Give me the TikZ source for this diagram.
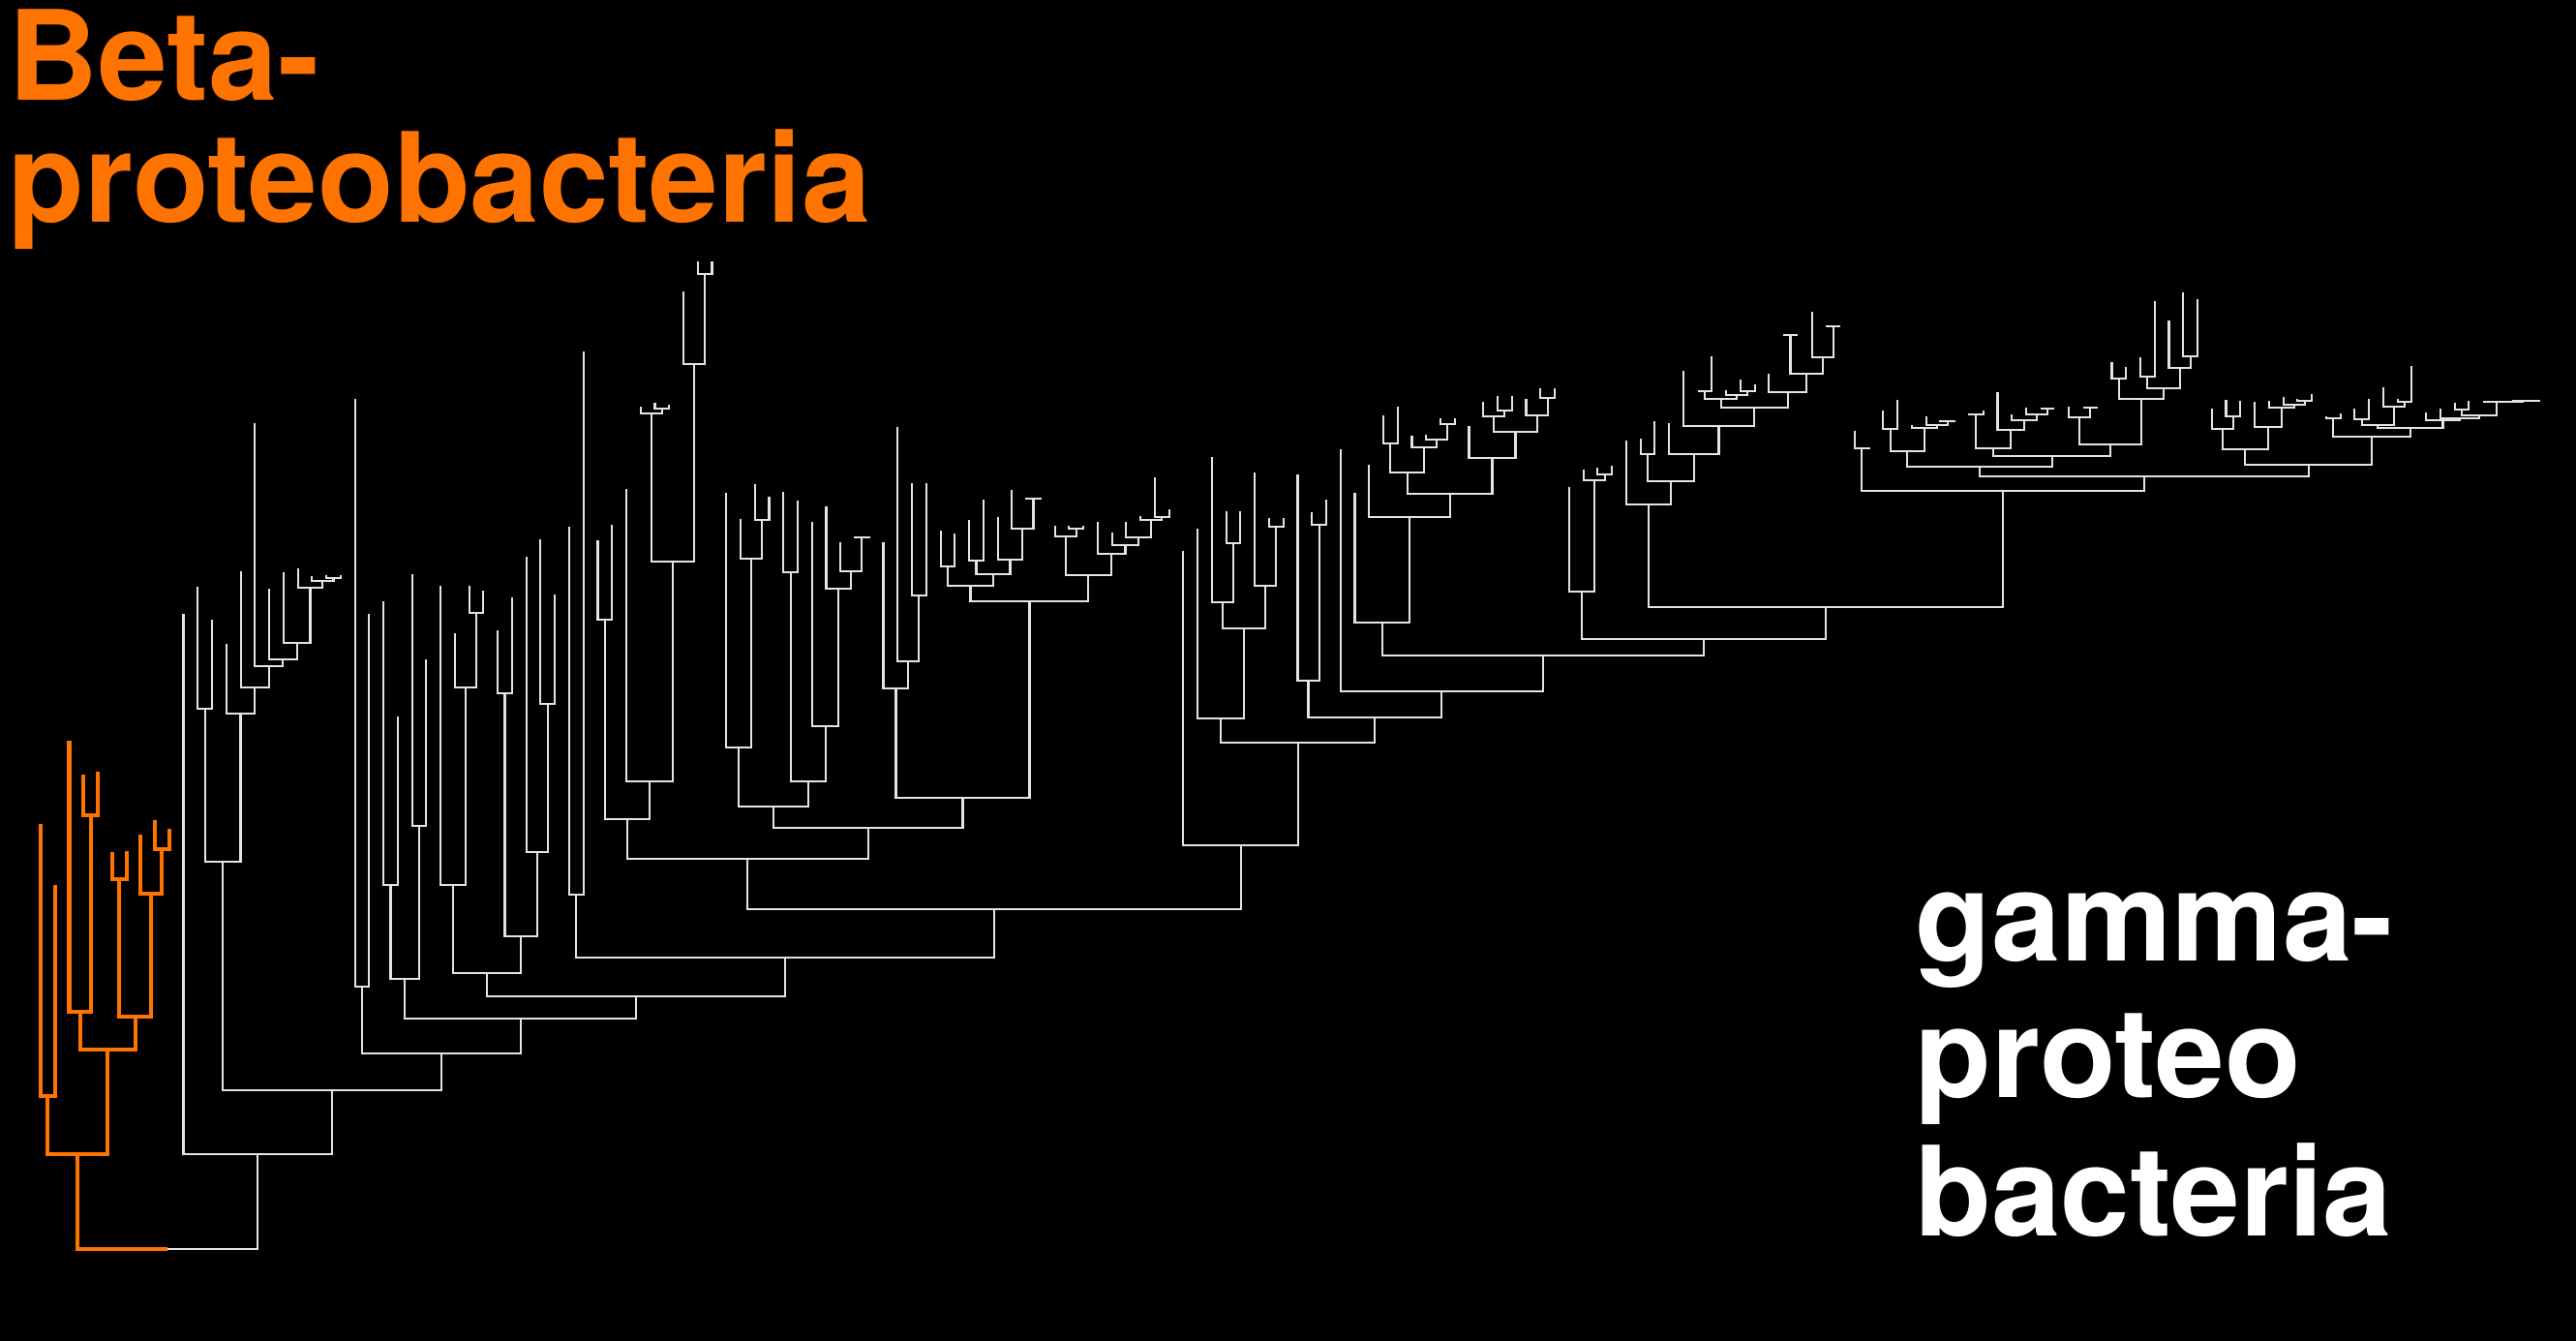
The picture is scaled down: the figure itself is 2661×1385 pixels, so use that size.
\documentclass[tikz,border=0pt]{standalone}
\usepackage{fontspec}
\usetikzlibrary{calc}
\newfontfamily\heros{TeX Gyre Heros}
\definecolor{betaorange}{HTML}{FF7300}
\definecolor{treegrey}{HTML}{E4E4E4}

% junction: name, left child, right child, height of the bar
\newcommand\J[4]{%
  \coordinate (#1) at ($(#2)!0.5!(#3)$);
  \coordinate (#1) at (#1 |- 0,#4);
  \draw (#2) |- (#1) -| (#3);
}

\begin{document}
\begin{tikzpicture}[x=0.1mm,y=-0.1mm,
  betaline/.style={betaorange,line width=1.15pt},
  gammaline/.style={treegrey,line width=0.6pt},
  cladetext/.style={inner sep=0pt,anchor=base west,font=\heros\bfseries\fontsize{36.6}{36.6}\selectfont}]
\fill[black] (0,0) rectangle (2661,1385);
\useasboundingbox (0,0) rectangle (2661,1385);

% leaf tips, evenly spaced
\foreach \t [count=\i] in {851,914,765,800,797,880,879,862,847,856,
  634,606,640,665,590,437,608,591,587,595, 594,594,412,634,621,740,593,681,605,654,
  605,610,651,617,575,557,614,544,363,558, 542,505,420,416,418,301,270,270,509,536,
  500,513,508,517,539,523,560,554,554,560, 441,499,499,548,551,537,516,534,506,514,
  514,543,543,543,539,550,539,533,493,526, 569,546,472,528,528,488,535,535,490,529,
  516,464,509,480,429,420,450,449,432,432, 440,415,409,409,412,401,401,503,485,483,
  481,455,453,435,437,383,404,368,403,392, 397,386,346,346,322,337,337,445,462,424,
  413,439,430,434,434,427,424,405,428,421, 422,422,420,421,421,374,379,369,311,331,
  302,309,422,413,414,415,414,410,412,407, 430,427,422,412,400,412,378,426,422,416,
  414,415,415,414,414,414}
  \coordinate (l\i) at ({42+(\i-1)*14.755},\t);

% beta clade
\begin{scope}[betaline]
\J{o1}{l1}{l2}{1132} \J{o2}{l4}{l5}{842} \J{o3}{l3}{o2}{1045}
\J{o4}{l6}{l7}{908} \J{o5}{l9}{l10}{877} \J{o6}{l8}{o5}{923}
\J{o7}{o4}{o6}{1050} \J{o8}{o3}{o7}{1084} \J{o9}{o1}{o8}{1192}
\end{scope}

% gamma clade
\begin{scope}[gammaline]
\J{a1}{l12}{l13}{732} \J{a9}{l21}{l22}{597} \J{a8}{l20}{a9}{600} \J{a7}{l19}{a8}{607}
\J{a6}{l18}{a7}{664} \J{a5}{l17}{a6}{681} \J{a4}{l16}{a5}{688} \J{a3}{l15}{a4}{710}
\J{a2}{l14}{a3}{737} \J{a0}{a1}{a2}{890}
\J{b1}{l23}{l24}{1019} \J{b5}{l25}{l26}{914} \J{b6}{l27}{l28}{853} \J{b3}{b5}{b6}{1011}
\J{c1c}{l31}{l32}{633} \J{c1b}{l30}{c1c}{710} \J{c1}{l29}{c1b}{914}
\J{c2a}{l33}{l34}{716} \J{c2c}{l36}{l37}{727} \J{c2b}{l35}{c2c}{880} \J{c2}{c2a}{c2b}{967}
\J{c0}{c1}{c2}{1005} \J{d1}{l38}{l39}{924}
\J{f1}{l40}{l41}{640} \J{f4b}{l44}{l45}{422} \J{f4}{l43}{f4b}{427} \J{f6}{l47}{l48}{283}
\J{f5}{l46}{f6}{376} \J{f3}{f4}{f5}{580} \J{f2}{l42}{f3}{807} \J{f0}{f1}{f2}{846}
\J{g1c}{l51}{l52}{537} \J{g1b}{l50}{g1c}{577} \J{g1a}{l49}{g1b}{772}
\J{g2a}{l53}{l54}{591} \J{g3d}{l58}{l59}{555} \J{g3c}{l57}{g3d}{590} \J{g3b}{l56}{g3c}{608}
\J{g3a}{l55}{g3b}{750} \J{g2b}{g2a}{g3a}{807} \J{g1}{g1a}{g2b}{833}
\J{h3}{l62}{l63}{615} \J{h2}{l61}{h3}{683} \J{h1}{l60}{h2}{711}
\J{p1}{l64}{l65}{585} \J{p3}{l66}{l67}{579} \J{p6}{l70}{l71}{515} \J{p5}{l69}{p6}{546}
\J{p4}{l68}{p5}{578} \J{p2}{p3}{p4}{593} \J{p0}{p1}{p2}{605}
\J{q2}{l73}{l74}{546} \J{q1}{l72}{q2}{554}
\J{n1}{l79}{l80}{534} \J{n2}{l78}{n1}{537} \J{n3}{l77}{n2}{555} \J{n4}{l76}{n3}{563}
\J{n5}{l75}{n4}{572} \J{q0}{q1}{n5}{594} \J{pq}{p0}{q0}{621}
\J{g2}{h1}{pq}{824} \J{g0}{g1}{g2}{855} \J{e1}{f0}{g0}{887}
\J{k1}{l84}{l85}{561} \J{k2}{l83}{k1}{622} \J{k3}{l87}{l88}{544} \J{k4}{l86}{k3}{605}
\J{k5}{k2}{k4}{649} \J{k6}{l82}{k5}{742}
\J{m1}{l90}{l91}{542} \J{m2}{l89}{m1}{703}
\J{r1}{l95}{l96}{458} \J{r3}{l99}{l100}{438} \J{r2}{l98}{r3}{454} \J{r4}{l97}{r2}{462}
\J{r5}{r1}{r4}{488} \J{r6}{l103}{l104}{424} \J{r7}{l102}{r6}{430} \J{r8}{l106}{l107}{411}
\J{r9}{l105}{r8}{429} \J{r10}{r7}{r9}{446} \J{r11}{l101}{r10}{473} \J{r12}{r5}{r11}{510}
\J{r13}{l94}{r12}{534} \J{r14}{l93}{r13}{643}
\J{s1}{l110}{l111}{490} \J{s2}{l109}{s1}{496} \J{s3}{l108}{s2}{611}
\J{t1}{l113}{l114}{469} \J{t2}{l117}{l118}{404} \J{t3}{l120}{l121}{404} \J{t4}{l119}{t3}{408}
\J{t5}{t2}{t4}{412} \J{t6}{l123}{l124}{346} \J{t7}{l126}{l127}{337} \J{t8}{l125}{t7}{369}
\J{t9}{t6}{t8}{386} \J{t10}{l122}{t9}{405} \J{t11}{t5}{t10}{421} \J{t12}{l116}{t11}{440}
\J{t13}{l115}{t12}{469} \J{t14}{t1}{t13}{497} \J{t15}{l112}{t14}{521}
\J{u1}{l128}{l129}{463}
\J{v1}{l130}{l131}{443} \J{v2}{l134}{l135}{435} \J{v3}{l133}{v2}{439} \J{v4}{l132}{v3}{442}
\J{v5}{v1}{v4}{466} \J{v6}{l136}{l137}{428} \J{v7}{l141}{l142}{422} \J{v8}{l140}{v7}{428}
\J{v9}{l139}{v8}{434} \J{v10}{l138}{v9}{444} \J{v11}{v6}{v10}{463} \J{v12}{l144}{l145}{421}
\J{v13}{l143}{v12}{431} \J{v14}{l146}{l147}{391} \J{v15}{l148}{l149}{389} \J{v16}{l151}{l152}{368}
\J{v17}{l150}{v16}{380} \J{v18}{v15}{v17}{401} \J{v19}{v14}{v18}{412} \J{v20}{v13}{v19}{459}
\J{v21}{v11}{v20}{471} \J{v22}{v5}{v21}{482}
\J{w1}{l154}{l155}{430} \J{w2}{l153}{w1}{443} \J{w3}{l159}{l160}{414} \J{w4}{l158}{w3}{418}
\J{w5}{l157}{w4}{421} \J{w6}{l156}{w5}{441} \J{w7}{w2}{w6}{464}
\J{w8}{l161}{l162}{432} \J{w9}{l163}{l164}{433} \J{w10}{l166}{l167}{415} \J{w11}{l165}{w10}{420}
\J{w12}{w9}{w11}{439} \J{w13}{l170}{l171}{423} \J{w14}{l175}{l176}{414} \J{w15}{l174}{w14}{414}
\J{w16}{l173}{w15}{415} \J{w17}{l172}{w16}{415} \J{w18}{w13}{w17}{429} \J{w19}{l169}{w18}{432}
\J{w20}{l168}{w19}{434} \J{w21}{w12}{w20}{442} \J{w22}{w8}{w21}{451} \J{w23}{w7}{w22}{480}
\J{x1}{v22}{w23}{492} \J{x2}{u1}{x1}{507} \J{x3}{t15}{x2}{627} \J{x4}{s3}{x3}{660}
\J{x5}{r14}{x4}{677} \J{x6}{l92}{x5}{714} \J{x7}{m2}{x6}{741} \J{x8}{k6}{x7}{767}
\J{e2}{l81}{x8}{873} \J{e0}{e1}{e2}{939} \J{d0}{d1}{e0}{989} \J{cd}{c0}{d0}{1029}
\J{bb}{b3}{cd}{1052} \J{b0}{b1}{bb}{1088} \J{ab}{a0}{b0}{1126} \J{gg}{l11}{ab}{1192}
\end{scope}

% root, half orange and half grey
\coordinate (root) at ($(o9)!0.5!(gg)$);
\coordinate (root) at (root |- 0,1290);
\draw[betaline] (o9) |- (root);
\draw[gammaline] (root) -| (gg);

\node[cladetext,text=betaorange] (betaA) at (8,104) {Beta-};
\node[cladetext,text=betaorange] (betaB) at (8,230) {proteobacteria};
\node[cladetext,text=white] (gammaA) at (1978,993) {gamma-};
\node[cladetext,text=white] (gammaB) at (1978,1134) {proteo};
\node[cladetext,text=white] (gammaC) at (1978,1276) {bacteria};
\end{tikzpicture}
\end{document}
